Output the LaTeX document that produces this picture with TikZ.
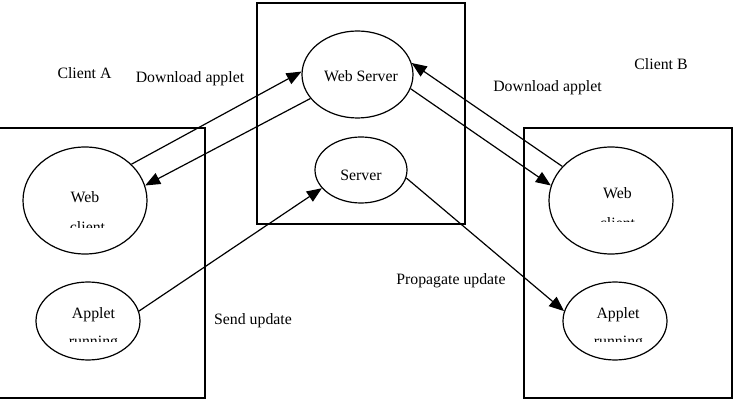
\documentclass[tikz,border=0pt]{standalone}
\usepackage{fontspec}
\setmainfont{Liberation Serif}
\usetikzlibrary{shapes.geometric,arrows.meta}
\begin{document}
\begin{tikzpicture}[x=1pt,y=-1pt,
  frame/.style={draw,line width=1.3pt},
  oval/.style={ellipse,draw,line width=1.2pt,inner sep=0pt},
  lbl/.style={inner sep=0pt,anchor=base,font=\fontsize{15.8}{19}\selectfont},
  link/.style={line width=1.2pt,-{Triangle[length=15pt,width=12pt]}}]
\useasboundingbox (0,0) rectangle (734,406);

% machine boxes
\draw[frame] (-3,128) rectangle (205,398);
\draw[frame] (257,3) rectangle (465,224);
\draw[frame] (524,128) rectangle (732,398);

% processes
\node[oval,minimum width=124pt,minimum height=107pt] (wca) at (85,200.5) {};
\node[oval,minimum width=104pt,minimum height=78pt] (apa) at (88,321) {};
\node[oval,minimum width=111pt,minimum height=87pt] (ws) at (357.5,74.5) {};
\node[oval,minimum width=92pt,minimum height=66pt] (sv) at (361,170) {};
\node[oval,minimum width=124pt,minimum height=107pt] (wcb) at (611,200.5) {};
\node[oval,minimum width=104pt,minimum height=78pt] (apb) at (615,321) {};

% texts inside the processes (second lines cut by their text boxes)
\node[lbl] (wcat) at (85,203) {Web};
\begin{scope}
  \clip (40,200) rectangle (140,228);
  \node[lbl] (wcac) at (87.5,233) {client};
\end{scope}
\node[lbl] (apat) at (93.5,318) {Applet};
\begin{scope}
  \clip (40,325) rectangle (140,341.5);
  \node[lbl] (apar) at (93.5,346) {running};
\end{scope}
\node[lbl] (wst) at (361,82) {Web Server};
\node[lbl] (svt) at (361,181) {Server};
\node[lbl] (wcbt) at (617.5,199) {Web};
\begin{scope}
  \clip (570,205) rectangle (670,222);
  \node[lbl] (wcbc) at (617.5,228.5) {client};
\end{scope}
\node[lbl] (apbt) at (618,318) {Applet};
\begin{scope}
  \clip (570,325) rectangle (670,341.5);
  \node[lbl] (apbr) at (618.5,346) {running};
\end{scope}

% free labels
\node[lbl] (ca) at (84.5,79) {Client A};
\node[lbl] (dla) at (190,83) {Download applet};
\node[lbl] (cb) at (661,70) {Client B};
\node[lbl] (dlb) at (547.5,92) {Download applet};
\node[lbl] (pu) at (451,285) {Propagate update};
\node[lbl] (su) at (253,324) {Send update};

% message flows
\draw[link] (wca.38) -- (ws.177);
\draw[link] (ws.207) -- (wca.14);
\draw[link] (apa.11) -- (sv.205);
\draw[link] (wcb.145) -- (ws.12);
\draw[link] (ws.345) -- (wcb.166);
\draw[link] (sv.350) -- (apb.169);
\end{tikzpicture}
\end{document}
